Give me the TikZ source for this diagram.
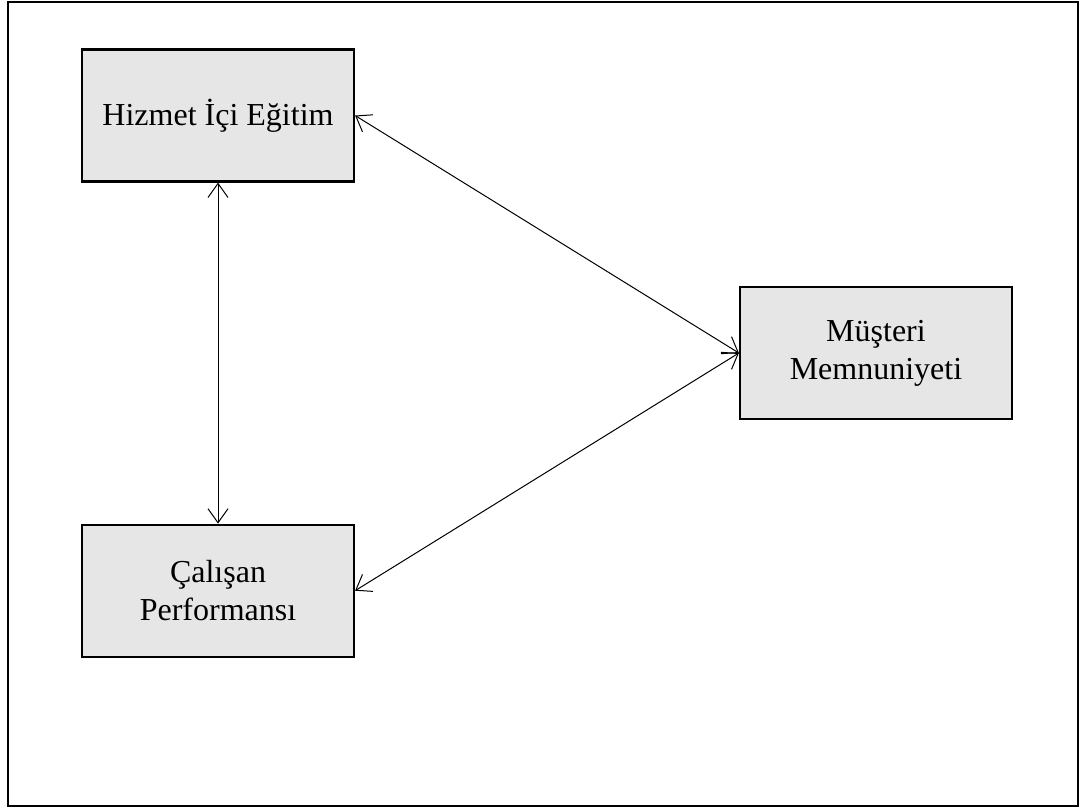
\documentclass[tikz,border=0pt]{standalone}
\usepackage{fontspec}
\setmainfont{Liberation Serif}
\usepackage{tikz}
\usetikzlibrary{positioning,arrows.meta}
\definecolor{boxgray}{HTML}{E6E6E6}

\begin{document}
\begin{tikzpicture}[
    x=0.5pt, y=-0.5pt,
    node distance=170.5pt,
    box/.style={rectangle, draw, line width=1.1pt, fill=boxgray, minimum width=136pt, minimum height=66pt, inner sep=0pt, align=center, font=\fontsize{16}{19}\selectfont},
    arrow/.style={{Straight Barb[length=7pt,width=10pt]}-{Straight Barb[length=7pt,width=10pt]}, line width=0.5pt}
]
    \useasboundingbox (0,0) rectangle (1087,810);
    \draw[line width=1.4pt] (8,2) rectangle (1078,806);

    \node[box] (hizmet) at (218,115.5) {Hizmet İçi Eğitim};
    \node[box, below=of hizmet] (calisan) {Çalışan\\Performansı};
    \node[box] (musteri) at (876,353) {Müşteri\\Memnuniyeti};

    \draw[arrow] (hizmet) -- (calisan);
    \draw[arrow] (hizmet.east) -- (musteri.west);
    \draw[arrow] (calisan.east) -- (musteri.west);
\end{tikzpicture}
\end{document}
